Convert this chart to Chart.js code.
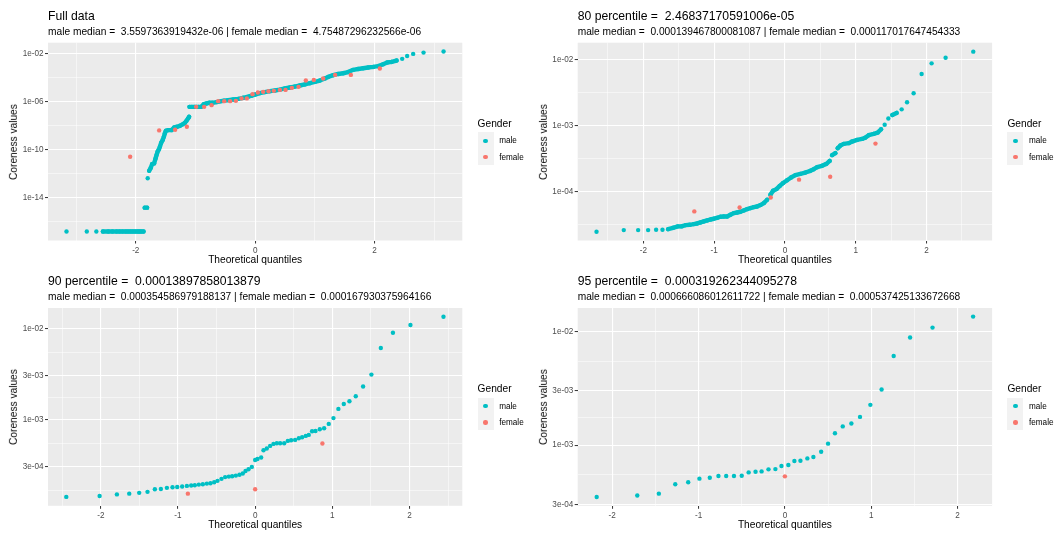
<!DOCTYPE html>
<html>
<head>
<meta charset="utf-8">
<script src="https://cdn.jsdelivr.net/npm/chart.js@4.4.0/dist/chart.umd.min.js"></script>
<style>
  body { margin: 0; background: #fff; }
  #fig { position: relative; width: 1057px; height: 534px; overflow: hidden; background: #fff; }
  #fig canvas { position: absolute; }
  .t { position: absolute; white-space: pre; line-height: 1; color: #000;
       font-family: 'Liberation Sans', Arial, Helvetica, sans-serif; }
  .key { position: absolute; background: #F2F2F2; }
  .dot { position: absolute; border-radius: 50%; }
</style>
</head>
<body>
<div id="fig"></div>
<script>
// ---- data: [theoretical quantile, coreness value] ----
const genders = ["male", "female"];
const genderColors = ["#00BFC4", "#F8766D"];

// Full data
const fullMale = [
  [-3.16, 1.6e-17], [-2.82, 1.6e-17], [-2.66, 1.6e-17], [-2.55, 1.6e-17], [-2.46, 1.6e-17],
  [-2.39, 1.6e-17], [-2.32, 1.6e-17], [-2.27, 1.6e-17], [-2.22, 1.6e-17], [-2.17, 1.6e-17],
  [-2.13, 1.6e-17], [-2.09, 1.6e-17], [-2.05, 1.6e-17], [-2.01, 1.6e-17], [-1.97, 1.6e-17],
  [-1.94, 1.6e-17], [-1.91, 1.6e-17], [-1.87, 1.6e-17],
  [-1.85, 1.55e-15], [-1.81, 1.55e-15],
  [-1.80, 4.3e-13], [-1.775, 1.8e-12], [-1.752, 2.9e-12], [-1.725, 6.5e-12], [-1.692, 7.4e-12],
  [-1.668, 1.9e-11], [-1.652, 3.6e-11], [-1.635, 6.8e-11], [-1.613, 1.07e-10], [-1.596, 1.8e-10],
  [-1.574, 3.8e-10], [-1.551, 6.3e-10], [-1.529, 1.2e-9], [-1.513, 2.3e-9], [-1.496, 3.8e-9],
  [-1.457, 4.3e-9], [-1.40, 4.3e-9], [-1.357, 7.2e-9], [-1.307, 8.2e-9], [-1.261, 9.8e-9],
  [-1.216, 1.3e-8], [-1.178, 1.7e-8], [-1.150, 2.6e-8], [-1.122, 4.1e-8], [-1.106, 5.5e-8],
  [-1.10, 3.7e-7], [-1.06, 3.7e-7], [-1.02, 3.7e-7], [-0.99, 3.7e-7], [-0.95, 3.7e-7], [-0.905, 3.7e-7],
  [-0.859, 6.2e-7], [-0.814, 7.1e-7], [-0.770, 8.0e-7], [-0.714, 8.0e-7], [-0.647, 9.1e-7],
  [-0.591, 1.05e-6], [-0.524, 1.18e-6], [-0.452, 1.33e-6], [-0.368, 1.5e-6], [-0.285, 1.7e-6],
  [-0.201, 2.1e-6], [-0.117, 2.6e-6], [-0.06, 3.1e-6], [-0.005, 3.8e-6], [0.079, 5.1e-6],
  [0.162, 6.2e-6], [0.246, 7.4e-6], [0.330, 8.5e-6], [0.414, 1.0e-5], [0.497, 1.25e-5],
  [0.581, 1.5e-5], [0.665, 1.8e-5], [0.749, 2.2e-5], [0.832, 2.7e-5], [0.916, 3.4e-5],
  [1.000, 4.4e-5], [1.084, 5.7e-5], [1.168, 8.4e-5], [1.223, 1.14e-4], [1.307, 1.58e-4],
  [1.390, 2.0e-4], [1.474, 2.3e-4], [1.558, 2.9e-4], [1.642, 4.4e-4], [1.725, 5.2e-4],
  [1.809, 6.0e-4], [1.893, 6.9e-4], [1.977, 7.7e-4], [2.060, 8.9e-4], [2.144, 1.29e-3],
  [2.211, 1.79e-3], [2.285, 2.0e-3], [2.369, 2.6e-3], [2.463, 3.6e-3], [2.546, 6.3e-3],
  [2.647, 9.3e-3], [2.821, 1.2e-2], [3.156, 1.47e-2]
];
const fullFemale = [
  [-2.094, 2.6e-11], [-1.608, 4.1e-9], [-1.340, 4.6e-9], [-1.144, 8.1e-9], [-0.988, 3.7e-7],
  [-0.854, 3.7e-7], [-0.730, 5.1e-7], [-0.620, 1.1e-6], [-0.519, 1.1e-6], [-0.419, 1.1e-6],
  [-0.323, 1.17e-6], [-0.228, 1.86e-6], [-0.139, 1.86e-6], [-0.044, 4.2e-6], [0.045, 5.8e-6],
  [0.134, 6.5e-6], [0.224, 7.4e-6], [0.313, 7.9e-6], [0.414, 9.5e-6], [0.509, 9.5e-6],
  [0.615, 1.4e-5], [0.727, 1.7e-5], [0.849, 5.8e-5], [0.983, 6.4e-5], [1.139, 8.4e-5],
  [1.340, 1.67e-4], [1.603, 1.67e-4], [2.089, 5.7e-4]
];

// 80 percentile
const p80Male = [
  [-2.662, 2.45e-5], [-2.277, 2.60e-5], [-2.074, 2.60e-5], [-1.933, 2.60e-5], [-1.820, 2.63e-5],
  [-1.730, 2.63e-5], [-1.650, 2.69e-5], [-1.580, 2.82e-5], [-1.514, 2.96e-5], [-1.462, 2.96e-5],
  [-1.401, 3.10e-5], [-1.345, 3.13e-5], [-1.288, 3.21e-5], [-1.241, 3.28e-5], [-1.193, 3.40e-5],
  [-1.147, 3.52e-5], [-1.099, 3.64e-5], [-1.052, 3.77e-5], [-1.005, 3.87e-5], [-0.958, 4.00e-5],
  [-0.911, 4.15e-5], [-0.864, 4.19e-5], [-0.816, 4.19e-5], [-0.770, 4.44e-5], [-0.723, 4.71e-5],
  [-0.675, 4.82e-5], [-0.629, 4.94e-5], [-0.582, 5.17e-5], [-0.534, 5.42e-5], [-0.487, 5.62e-5],
  [-0.441, 5.81e-5], [-0.393, 5.94e-5], [-0.346, 6.24e-5], [-0.299, 6.68e-5], [-0.251, 7.51e-5],
  [-0.205, 8.94e-5], [-0.167, 1.03e-4], [-0.120, 1.09e-4], [-0.073, 1.22e-4], [-0.025, 1.35e-4],
  [0.031, 1.49e-4], [0.087, 1.64e-4], [0.148, 1.78e-4], [0.219, 1.86e-4], [0.290, 1.95e-4],
  [0.360, 2.07e-4], [0.407, 2.19e-4], [0.455, 2.35e-4], [0.525, 2.47e-4], [0.586, 2.64e-4],
  [0.633, 2.93e-4], [0.667, 3.58e-4], [0.713, 3.84e-4], [0.746, 4.57e-4], [0.784, 5.01e-4],
  [0.831, 5.31e-4], [0.902, 5.45e-4], [0.949, 5.76e-4], [1.020, 6.11e-4], [1.090, 6.32e-4],
  [1.137, 6.62e-4], [1.184, 7.19e-4], [1.254, 7.53e-4], [1.311, 7.88e-4], [1.359, 8.87e-4],
  [1.410, 1.04e-3], [1.462, 1.29e-3], [1.518, 1.46e-3], [1.579, 1.57e-3], [1.650, 1.78e-3],
  [1.726, 2.28e-3], [1.819, 3.12e-3], [1.932, 6.14e-3], [2.073, 8.90e-3], [2.271, 1.08e-2],
  [2.662, 1.34e-2]
];
const p80Female = [
  [-1.28, 5.0e-5], [-0.64, 5.74e-5], [-0.20, 8.15e-5], [0.20, 1.52e-4], [0.64, 1.68e-4], [1.28, 5.37e-4]
];

// 90 percentile
const p90Male = [
  [-2.448, 1.40e-4], [-2.016, 1.43e-4], [-1.792, 1.49e-4], [-1.632, 1.52e-4], [-1.503, 1.55e-4],
  [-1.395, 1.59e-4], [-1.300, 1.70e-4], [-1.222, 1.71e-4], [-1.144, 1.76e-4], [-1.071, 1.79e-4],
  [-1.010, 1.80e-4], [-0.946, 1.82e-4], [-0.885, 1.85e-4], [-0.829, 1.87e-4], [-0.782, 1.88e-4],
  [-0.730, 1.91e-4], [-0.678, 1.93e-4], [-0.626, 1.96e-4], [-0.579, 1.98e-4], [-0.531, 2.03e-4],
  [-0.488, 2.10e-4], [-0.436, 2.21e-4], [-0.389, 2.31e-4], [-0.341, 2.34e-4], [-0.298, 2.36e-4],
  [-0.250, 2.40e-4], [-0.203, 2.45e-4], [-0.160, 2.53e-4], [-0.125, 2.70e-4], [-0.086, 2.82e-4],
  [-0.043, 2.99e-4], [0.000, 3.57e-4], [0.030, 3.66e-4], [0.078, 3.79e-4], [0.108, 4.56e-4],
  [0.151, 4.77e-4], [0.194, 5.09e-4], [0.237, 5.36e-4], [0.281, 5.45e-4], [0.324, 5.45e-4],
  [0.376, 5.45e-4], [0.423, 5.78e-4], [0.466, 5.88e-4], [0.518, 5.93e-4], [0.566, 6.18e-4],
  [0.609, 6.34e-4], [0.656, 6.56e-4], [0.695, 6.73e-4], [0.738, 7.38e-4], [0.782, 7.44e-4],
  [0.838, 7.76e-4], [0.894, 7.96e-4], [0.954, 8.89e-4], [1.015, 1.03e-3], [1.079, 1.30e-3],
  [1.149, 1.47e-3], [1.222, 1.58e-3], [1.304, 1.79e-3], [1.399, 2.29e-3], [1.507, 3.10e-3],
  [1.629, 6.08e-3], [1.786, 8.96e-3], [2.013, 1.09e-2], [2.441, 1.34e-2]
];
const p90Female = [[-0.872, 1.52e-4], [0.000, 1.70e-4], [0.872, 5.41e-4]];

// 95 percentile
const p95Male = [
  [-2.18, 3.50e-4], [-1.71, 3.60e-4], [-1.46, 3.74e-4], [-1.27, 4.52e-4], [-1.12, 4.71e-4],
  [-0.99, 5.07e-4], [-0.87, 5.16e-4], [-0.77, 5.35e-4], [-0.68, 5.35e-4], [-0.59, 5.35e-4],
  [-0.50, 5.38e-4], [-0.42, 5.75e-4], [-0.34, 5.83e-4], [-0.27, 5.87e-4], [-0.19, 6.12e-4],
  [-0.11, 6.15e-4], [-0.04, 6.55e-4], [0.04, 6.68e-4], [0.11, 7.24e-4], [0.18, 7.29e-4],
  [0.26, 7.64e-4], [0.33, 7.85e-4], [0.42, 8.75e-4], [0.50, 1.03e-3], [0.58, 1.27e-3],
  [0.67, 1.46e-3], [0.77, 1.55e-3], [0.87, 1.77e-3], [0.99, 2.26e-3], [1.12, 3.08e-3],
  [1.26, 6.08e-3], [1.45, 8.85e-3], [1.71, 1.08e-2], [2.18, 1.35e-2]
];
const p95Female = [[0.00, 5.31e-4]];

// ticks
const xTicksWide = [-2, 0, 2];
const xLabelsWide = ["-2", "0", "2"];
const xMinorWide = [-3, -1, 1, 3];
const xTicks = [-2, -1, 0, 1, 2];
const xLabels = ["-2", "-1", "0", "1", "2"];
const xMinor = [-2.5, -1.5, -0.5, 0.5, 1.5, 2.5];

const fullYTicks = [1e-14, 1e-10, 1e-6, 1e-2];
const fullYLabels = ["1e-14", "1e-10", "1e-06", "1e-02"];
const fullYMinor = [1e-16, 1e-12, 1e-8, 1e-4];
const p80YTicks = [1e-4, 1e-3, 1e-2];
const p80YLabels = ["1e-04", "1e-03", "1e-02"];
const p80YMinor = [3.162e-5, 3.162e-4, 3.162e-3];
const p9xYTicks = [3e-4, 1e-3, 3e-3, 1e-2];
const p9xYLabels = ["3e-04", "1e-03", "3e-03", "1e-02"];
const p9xYMinor = [1.644e-4, 5.477e-4, 1.732e-3, 5.477e-3];

const titles = [
  "Full data",
  "80 percentile =  2.46837170591006e-05",
  "90 percentile =  0.00013897858013879",
  "95 percentile =  0.000319262344095278"
];
const subtitles = [
  "male median =  3.5597363919432e-06 | female median =  4.75487296232566e-06",
  "male median =  0.000139467800081087 | female median =  0.000117017647454333",
  "male median =  0.000354586979188137 | female median =  0.000167930375964166",
  "male median =  0.000666086012611722 | female median =  0.000537425133672668"
];

// ---- layout ----
const FONT = "'Liberation Sans', Arial, Helvetica, sans-serif";
const fig = document.getElementById('fig');

const panels = [
  { box: [0, 0, 528, 266], area: [48, 42.7, 462.3, 240.5], male: fullMale, female: fullFemale,
    x: [-3.47, 3.47], y: [-17.54, -1.1], xT: xTicksWide, xL: xLabelsWide, xM: xMinorWide,
    yT: fullYTicks, yL: fullYLabels, yM: fullYMinor, joinPx: 5.6 },
  { box: [528, 0, 529, 266], area: [577.7, 42.7, 992.1, 240.5], male: p80Male, female: p80Female,
    x: [-2.928, 2.928], y: [-4.743, -1.737], xT: xTicks, xL: xLabels, xM: xMinor,
    yT: p80YTicks, yL: p80YLabels, yM: p80YMinor, joinPx: 5.3 },
  { box: [0, 266, 528, 268], area: [48, 308, 462.3, 505.8], male: p90Male, female: p90Female,
    x: [-2.685, 2.685], y: [-3.952, -1.776], xT: xTicks, xL: xLabels, xM: xMinor,
    yT: p9xYTicks, yL: p9xYLabels, yM: p9xYMinor, joinPx: 0 },
  { box: [528, 266, 529, 268], area: [577.7, 308, 992.1, 505.8], male: p95Male, female: p95Female,
    x: [-2.4, 2.4], y: [-3.534, -1.794], xT: xTicks, xL: xLabels, xM: xMinor,
    yT: p9xYTicks, yL: p9xYLabels, yM: p9xYMinor, joinPx: 0 }
];

function txt(str, size, left, baseline, color) {
  const d = document.createElement('div');
  d.className = 't';
  d.textContent = str;
  d.style.fontSize = size + 'px';
  d.style.left = left + 'px';
  d.style.top = (baseline - 0.8465 * size) + 'px';
  if (color) d.style.color = color;
  fig.appendChild(d);
  return d;
}

const bgPlugin = {
  id: 'panelBg',
  beforeDraw(chart) {
    const { ctx, chartArea: a } = chart;
    ctx.save();
    ctx.fillStyle = '#EBEBEB';
    ctx.fillRect(a.left, a.top, a.right - a.left, a.bottom - a.top);
    ctx.restore();
  }
};

function buildTicks(major, minor) {
  return major.map(v => ({ value: v }))
    .concat(minor.map(v => ({ value: v, minor: true })))
    .sort((a, b) => a.value - b.value);
}

function labelOf(major, labels) {
  return (v, i, ticks) => {
    if (ticks[i] && ticks[i].minor) return '';
    const k = major.findIndex(m => Math.abs(m - v) <= Math.abs(m) * 1e-6 + 1e-12);
    return k < 0 ? '' : labels[k];
  };
}

const isMinor = c => !!(c.tick && c.tick.minor);
const grid = {
  color: c => isMinor(c) ? 'rgba(255,255,255,0.9)' : '#FFFFFF',
  lineWidth: c => isMinor(c) ? 0.55 : 1.1,
  tickColor: c => isMinor(c) ? 'rgba(0,0,0,0)' : '#333333',
  tickWidth: 1,
  tickLength: 3,
  drawTicks: true
};
const tickFont = { family: FONT, size: 8.16 };

function series(pairs) {
  return pairs.map(([q, v]) => ({ x: q, y: v }));
}

panels.forEach((p, n) => {
  const [bx, by, bw, bh] = p.box;
  const [L, T, R, B] = p.area;
  const yW = 40, xH = 20;

  const canvas = document.createElement('canvas');
  canvas.width = bw; canvas.height = bh;
  canvas.style.left = bx + 'px'; canvas.style.top = by + 'px';
  canvas.style.width = bw + 'px'; canvas.style.height = bh + 'px';
  fig.appendChild(canvas);

  const maleColor = genderColors[0], femaleColor = genderColors[1];

  new Chart(canvas, {
    type: 'scatter',
    data: {
      datasets: [
        { label: genders[1], data: series(p.female), order: 0,
          pointRadius: 2.2, pointBorderWidth: 0, pointBackgroundColor: femaleColor,
          backgroundColor: femaleColor, showLine: false },
        { label: genders[0], data: series(p.male), order: 1,
          pointRadius: 2.2, pointBorderWidth: 0, pointBackgroundColor: maleColor,
          backgroundColor: maleColor, borderColor: maleColor, borderWidth: 4.4,
          borderCapStyle: 'round', borderJoinStyle: 'round', tension: 0,
          showLine: p.joinPx > 0,
          segment: {
            borderColor: c => Math.hypot(c.p1.x - c.p0.x, c.p1.y - c.p0.y) <= p.joinPx ? maleColor : 'rgba(0,0,0,0)'
          } }
      ]
    },
    options: {
      responsive: false,
      animation: false,
      devicePixelRatio: 1,
      events: [],
      layout: { padding: { left: L - bx - yW, right: bx + bw - R, top: T - by, bottom: by + bh - B - xH } },
      plugins: { legend: { display: false }, tooltip: { enabled: false } },
      scales: {
        x: {
          type: 'linear', position: 'bottom', bounds: 'data',
          min: p.x[0], max: p.x[1],
          afterBuildTicks: s => { s.ticks = buildTicks(p.xT, p.xM); },
          afterFit: s => { s.height = xH; },
          grid: grid,
          border: { display: false },
          ticks: { autoSkip: false, maxRotation: 0, minRotation: 0, padding: 2,
                   color: '#4D4D4D', font: tickFont, callback: labelOf(p.xT, p.xL) }
        },
        y: {
          type: 'logarithmic', position: 'left', bounds: 'data',
          min: Math.pow(10, p.y[0]), max: Math.pow(10, p.y[1]),
          afterBuildTicks: s => { s.ticks = buildTicks(p.yT, p.yM); },
          afterFit: s => { s.width = yW; },
          grid: grid,
          border: { display: false },
          ticks: { autoSkip: false, padding: 1.5, color: '#4D4D4D', font: tickFont,
                   major: { enabled: false }, callback: labelOf(p.yT, p.yL) }
        }
      }
    },
    plugins: [bgPlugin]
  });

  // titles
  txt(titles[n], 12.2, L, T - 22.7);
  txt(subtitles[n], 10.2, L, T - 7);

  // axis titles
  const xt = txt("Theoretical quantiles", 10.2, (L + R) / 2, B + 23);
  xt.style.transform = 'translateX(-50%)';
  const yt = document.createElement('div');
  yt.className = 't';
  yt.textContent = "Coreness values";
  yt.style.fontSize = '10.2px';
  yt.style.left = (L - 34) + 'px';
  yt.style.top = ((T + B) / 2) + 'px';
  yt.style.transform = 'translate(-50%, -50%) rotate(-90deg)';
  fig.appendChild(yt);

  // legend
  const lx = R + 15.3;
  txt("Gender", 10.2, lx, T + 85);
  const key = document.createElement('div');
  key.className = 'key';
  Object.assign(key.style, { left: lx + 'px', top: (T + 89.6) + 'px', width: '16px', height: '32.6px' });
  fig.appendChild(key);
  genders.forEach((g, i) => {
    const cy = T + 98.3 + i * 16.3;
    const d = document.createElement('div');
    d.className = 'dot';
    Object.assign(d.style, { left: (lx + 8 - 2.2) + 'px', top: (cy - 2.2) + 'px',
      width: '4.4px', height: '4.4px', background: genderColors[i] });
    fig.appendChild(d);
    txt(g, 8.16, lx + 21.6, cy + 3.4);
  });
});
</script>
</body>
</html>
